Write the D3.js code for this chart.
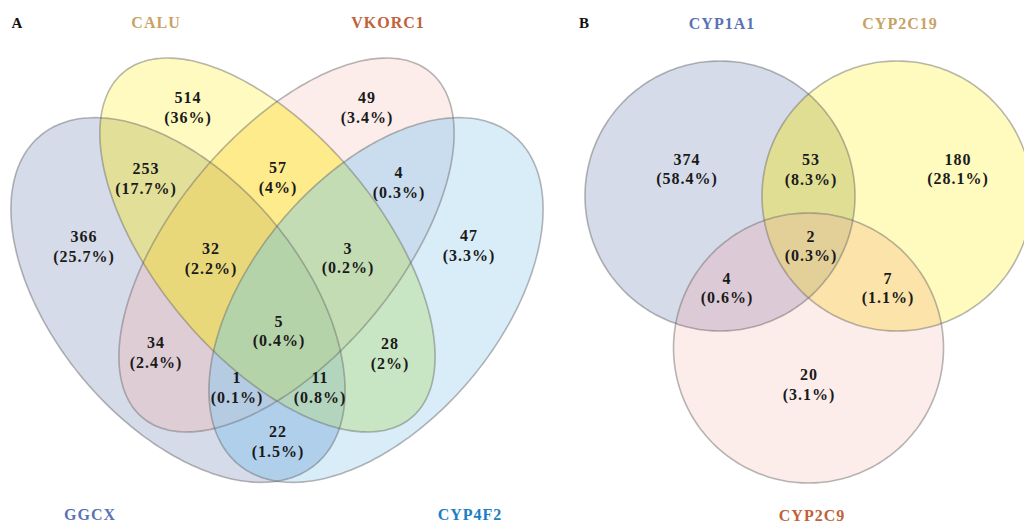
<!DOCTYPE html>
<html>
<head>
<meta charset="utf-8">
<script src="https://cdn.jsdelivr.net/npm/d3@7"></script>
<style>
  body { margin: 0; background: #fff; }
  svg { display: block; font-family: "Liberation Serif", "Times New Roman", serif; }
  .count { font-weight: bold; font-size: 16px; fill: #1a1a1a; letter-spacing: 1px; }
  .cat { font-weight: bold; font-size: 16px; letter-spacing: 1px; }
  .panel { font-weight: bold; font-size: 15px; fill: #111; }
</style>
</head>
<body>
<svg id="chart" width="1024" height="523"></svg>
<script>
// ---- data: panel A (4 sets) ----
const setsA = ['GGCX', 'CALU', 'VKORC1', 'CYP4F2'];
// region keys = indexes of the sets the region belongs to
const regionsA = ['0', '1', '2', '3', '01', '02', '03', '12', '13', '23', '012', '013', '023', '123', '0123'];
const countsA = [366, 514, 49, 47, 253, 34, 22, 57, 28, 4, 32, 11, 1, 3, 5];

// ---- data: panel B (3 sets) ----
const setsB = ['CYP1A1', 'CYP2C19', 'CYP2C9'];
const regionsB = ['0', '1', '2', '01', '02', '12', '012'];
const countsB = [374, 180, 20, 53, 4, 7, 2];

// ---- styles ----
const catColA = ['#5a72b4', '#c8a264', '#c0623a', '#1a7ec4'];
const catColB = ['#5a72b4', '#c8a264', '#c0623a'];
const fillA = {
  '0': '#d6dbe9', '1': '#fffbc0', '2': '#fcecea', '3': '#d9edf9',
  '01': '#e2df98', '02': '#dfcdd6', '03': '#afcfeb', '12': '#fdeb8c', '13': '#c8e6c4', '23': '#c9ddee',
  '012': '#e9d87a', '013': '#b3d5be', '023': '#b5cbe2', '123': '#c3dcb4', '0123': '#b5d3a9'
};
const fillB = {
  '0': '#d6dbe9', '1': '#fffbbf', '2': '#fcedea',
  '01': '#e0de93', '02': '#dccbd6', '12': '#fbe3a9', '012': '#e3cf98'
};

// ---- layout (panel units) ----
const shapesA = [
  { cx: 0.3139, cy: 0.4549, rx: 0.4030, ry: 0.2318, rot: 50 },
  { cx: 0.4821, cy: 0.3515, rx: 0.4226, ry: 0.2102, rot: 50.2 },
  { cx: 0.5179, cy: 0.3515, rx: 0.4226, ry: 0.2102, rot: -50.2 },
  { cx: 0.6861, cy: 0.4549, rx: 0.4030, ry: 0.2318, rot: -50 }
];
const shapesB = [
  { cx: 0.3375, cy: 0.3375, rx: 0.3375, ry: 0.3375, rot: 0 },
  { cx: 0.7800, cy: 0.3375, rx: 0.3375, ry: 0.3375, rot: 0 },
  { cx: 0.5588, cy: 0.7175, rx: 0.3375, ry: 0.3375, rot: 0 }
];
const labelPosA = {
  '0': [0.1372, 0.3534], '1': [0.3327, 0.0921], '2': [0.6692, 0.0921], '3': [0.8609, 0.3515],
  '01': [0.2538, 0.2256], '02': [0.2726, 0.5526], '03': [0.5019, 0.7199], '12': [0.5019, 0.2237],
  '13': [0.7124, 0.5545], '23': [0.7293, 0.2331], '012': [0.3759, 0.3759], '013': [0.5808, 0.6184],
  '023': [0.4248, 0.6184], '123': [0.6335, 0.3741], '0123': [0.5038, 0.5122]
};
const labelPosB = {
  '0': [0.255, 0.2688], '1': [0.9325, 0.2688], '2': [0.56, 0.8075], '01': [0.565, 0.27],
  '02': [0.355, 0.5663], '12': [0.7575, 0.5663], '012': [0.565, 0.4613]
};
const catPosA = [[0.1485, 0.859], [0.2726, -0.0658], [0.7086, -0.0658], [0.8628, 0.859]];
const catPosB = [[0.3425, -0.095], [0.7875, -0.095], [0.5675, 1.135]];

const svg = d3.select('#chart');
const defs = svg.append('defs');

const xA = d3.scaleLinear().domain([0, 1]).range([11, 543]);
const yA = d3.scaleLinear().domain([0, 1]).range([58, 590]);
const xB = d3.scaleLinear().domain([0, 1]).range([585, 985]);
const yB = d3.scaleLinear().domain([0, 1]).range([61, 461]);

function ellipsePts(e) {
  const r = e.rot * Math.PI / 180;
  return d3.range(0, 360, 2).map(t => {
    const a = t * Math.PI / 180;
    const u = e.rx * Math.cos(a), v = e.ry * Math.sin(a);
    return [e.cx + u * Math.cos(r) - v * Math.sin(r), e.cy + u * Math.sin(r) + v * Math.cos(r)];
  });
}

function drawVenn(id, sets, keys, counts, shapes, fills, labelPos, catPos, catCol, x, y, letter, letterPos) {
  const line = d3.line().x(p => x(p[0])).y(p => y(p[1])).curve(d3.curveCatmullRomClosed);
  const pathFor = s => line(ellipsePts(s));
  const total = d3.sum(counts);

  shapes.forEach((s, i) => {
    defs.append('clipPath').attr('id', id + 'c' + i).append('path').attr('d', pathFor(s));
  });

  const layer = svg.append('g').attr('class', 'regions-' + id);

  // one filled region per combination: clipped to member sets, masked by the others
  keys.forEach((k, j) => {
    const members = k.split('').map(Number);
    const others = d3.range(shapes.length).filter(i => !members.includes(i));
    const m = defs.append('mask').attr('id', id + 'm' + j)
      .attr('maskUnits', 'userSpaceOnUse')
      .attr('x', 0).attr('y', 0).attr('width', 1024).attr('height', 523);
    m.append('rect').attr('width', 1024).attr('height', 523).attr('fill', '#fff');
    others.forEach(i => m.append('path').attr('d', pathFor(shapes[i])).attr('fill', '#000'));

    let g = layer;
    members.forEach(i => { g = g.append('g').attr('clip-path', `url(#${id}c${i})`); });
    g.append('rect').attr('width', 1024).attr('height', 523)
      .attr('fill', fills[k]).attr('mask', `url(#${id}m${j})`);
  });

  // outlines
  svg.append('g').selectAll('path').data(shapes).join('path')
    .attr('d', pathFor)
    .attr('fill', 'none')
    .attr('stroke', '#555')
    .attr('stroke-opacity', 0.42)
    .attr('stroke-width', 1.6);

  // counts + percentages
  const lab = svg.append('g').selectAll('text').data(keys).join('text')
    .attr('class', 'count')
    .attr('text-anchor', 'middle')
    .attr('x', k => x(labelPos[k][0]))
    .attr('y', k => y(labelPos[k][1]));
  lab.append('tspan').attr('x', k => x(labelPos[k][0])).attr('dy', '-0.22em')
    .text((k, i) => counts[i]);
  lab.append('tspan').attr('x', k => x(labelPos[k][0])).attr('dy', '1.2em')
    .text((k, i) => '(' + (Math.round(counts[i] / total * 1000) / 10) + '%)');

  // set names
  svg.append('g').selectAll('text').data(sets).join('text')
    .attr('class', 'cat')
    .attr('text-anchor', 'middle')
    .attr('dominant-baseline', 'central')
    .attr('x', (d, i) => x(catPos[i][0]))
    .attr('y', (d, i) => y(catPos[i][1]))
    .attr('fill', (d, i) => catCol[i])
    .text(d => d);

  svg.append('text').attr('class', 'panel')
    .attr('text-anchor', 'middle')
    .attr('dominant-baseline', 'central')
    .attr('x', x(letterPos[0])).attr('y', y(letterPos[1]))
    .text(letter);
}

drawVenn('a', setsA, regionsA, countsA, shapesA, fillA, labelPosA, catPosA, catColA, xA, yA, 'A', [0.0113, -0.0658]);
drawVenn('b', setsB, regionsB, countsB, shapesB, fillB, labelPosB, catPosB, catColB, xB, yB, 'B', [-0.0025, -0.095]);
</script>
</body>
</html>
